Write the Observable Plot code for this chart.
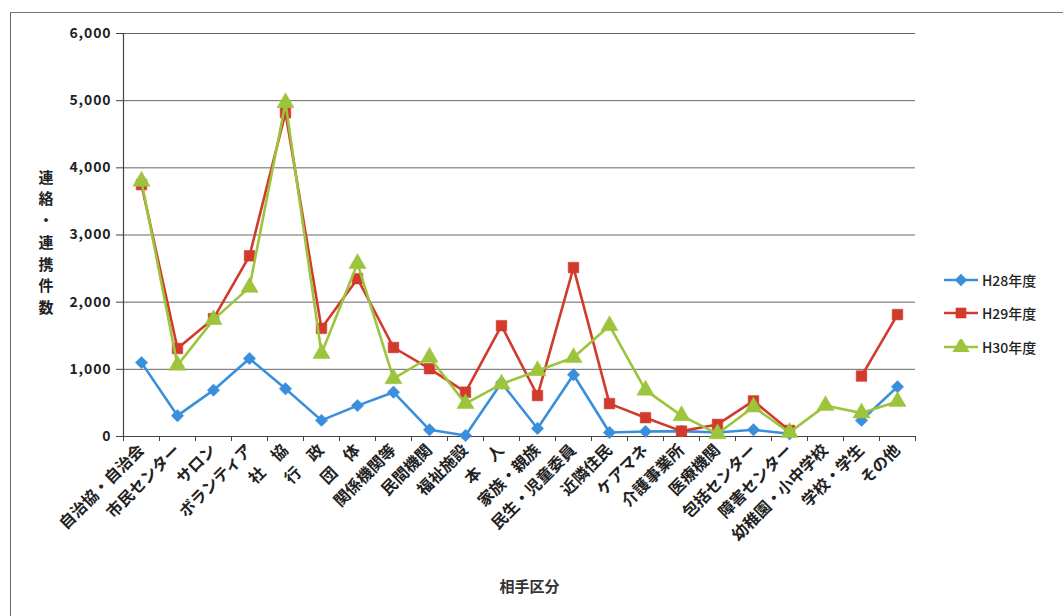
<!DOCTYPE html>
<html>
<head>
<meta charset="utf-8">
<script src="https://cdn.jsdelivr.net/npm/d3@7"></script>
<script src="https://cdn.jsdelivr.net/npm/@observablehq/plot@0.6"></script>
<style>
  body { margin: 0; background: #fff; }
  #wrap { position: relative; width: 1063px; height: 616px; overflow: hidden; font-family: 'Noto Sans CJK JP', sans-serif; }
  #frame { position: absolute; left: 10px; top: 12px; width: 1060px; height: 610px; border-left: 1.5px solid #666; border-top: 1.5px solid #777; }
  #legend { position: absolute; left: 942px; top: 263px; font-size: 14px; color: #222; font-weight: 500; }
  #legend .item { display: flex; align-items: center; height: 33.5px; }
  #legend svg { margin-right: 2px; }
  svg [aria-label="y-axis tick label"] text { letter-spacing: 0.9px; }
</style>
</head>
<body>
<div id="wrap"><div id="frame"></div></div>
<script>
const categories = ["自治協・自治会","市民センター","サロン","ボランティア","社　協","行　政","団　体","関係機関等","民間機関","福祉施設","本　人","家族・親族","民生・児童委員","近隣住民","ケアマネ","介護事業所","医療機関","包括センター","障害センター","幼稚園・小中学校","学校・学生","その他"];
const seriesNames = ["H28年度","H29年度","H30年度"];
const h28 = [1100, 310, 690, 1160, 710, 240, 460, 660, 100, 15, 800, 120, 920, 60, 75, 80, 60, 100, 40, null, 240, 740];
const h29 = [3750, 1310, 1755, 2690, 4820, 1610, 2350, 1325, 1010, 660, 1650, 610, 2515, 490, 280, 80, 180, 530, 90, null, 900, 1815];
const h30 = [3800, 1060, 1740, 2220, 4970, 1235, 2575, 860, 1180, 490, 780, 980, 1175, 1650, 690, 310, 40, 440, 60, 460, 350, 520];
const yTicks = [0, 1000, 2000, 3000, 4000, 5000, 6000];
const yLabel = "連絡・連携件数";
const xLabel = "相手区分";

const colors = ["#3a8fdc", "#d23a2c", "#9cc43c"];
const symbols = ["diamond2", "square", "triangle"];
const radii = [5.6, 6, 6.4];
const allSeries = [h28, h29, h30];

const lineMarks = [];
allSeries.forEach((vals, s) => {
  const rows = categories.map((c, i) => ({cat: c, value: vals[i], series: seriesNames[s]}));
  lineMarks.push(Plot.line(rows, {x: "cat", y: "value", stroke: colors[s], strokeWidth: 2.6, curve: "linear"}));
  lineMarks.push(Plot.dot(rows.filter(d => d.value != null), {x: "cat", y: "value", symbol: () => symbols[s], fill: colors[s], stroke: colors[s], strokeWidth: 0.5, r: radii[s]}));
});

const step = (1063 - 123 - 148) / categories.length;

const chart = Plot.plot({
  width: 1063, height: 616,
  marginLeft: 123, marginRight: 148, marginTop: 33, marginBottom: 180,
  style: {fontFamily: "'Noto Sans CJK JP', sans-serif", background: "transparent", color: "#222"},
  x: {type: "point", domain: categories, padding: 0.5, label: null},
  y: {domain: [0, 6000], label: null},
  symbol: {type: "identity"},
  marks: [
    Plot.gridY(yTicks, {stroke: "#555", strokeOpacity: 0.9, strokeWidth: 1}),
    Plot.ruleX([categories[0]], {dx: -step / 2, stroke: "#444", strokeWidth: 1.2}),
    Plot.ruleY([0], {stroke: "#444", strokeWidth: 1.2}),
    Plot.axisY({ticks: yTicks, tickFormat: d3.format(","), tickSize: 7, tickPadding: 5, fontSize: 14, fontWeight: "bold", stroke: "#444", label: null}),
    Plot.axisX({tickSize: 5, tickFormat: () => "", dx: -step / 2, stroke: "#444", label: null}),
    Plot.axisX([categories[categories.length - 1]], {tickSize: 5, tickFormat: () => "", dx: step / 2, stroke: "#444", label: null}),
    Plot.axisX({tickSize: 0, tickRotate: -45, tickPadding: 11, fontSize: 16, fontWeight: "bold", label: null}),
    Plot.text([xLabel], {frameAnchor: "bottom", dy: 155, dx: 10, fontSize: 15, fontWeight: "bold", fill: "#333"}),
    Plot.text([yLabel], {frameAnchor: "left", dx: -85, dy: 6, text: d => d.split("").join("\n"), lineHeight: 1.45, fontSize: 15, fontWeight: "bold", fill: "#222"}),
    ...lineMarks
  ]
});
chart.style.position = "absolute";
chart.style.left = "0px";
chart.style.top = "0px";
document.getElementById("wrap").appendChild(chart);

// legend
const legend = document.createElement("div");
legend.id = "legend";
seriesNames.forEach((name, s) => {
  const item = document.createElement("div");
  item.className = "item";
  const svg = d3.create("svg").attr("width", 38).attr("height", 16);
  svg.append("line").attr("x1", 2).attr("x2", 36).attr("y1", 8).attr("y2", 8).attr("stroke", colors[s]).attr("stroke-width", 2.6);
  const symMap = {diamond2: d3.symbolDiamond2, square: d3.symbolSquare, triangle: d3.symbolTriangle};
  svg.append("path").attr("transform", "translate(19,8)").attr("d", d3.symbol(symMap[symbols[s]], Math.PI * radii[s] * radii[s])()).attr("fill", colors[s]);
  item.appendChild(svg.node());
  const t = document.createElement("span");
  t.textContent = name;
  item.appendChild(t);
  legend.appendChild(item);
});
document.getElementById("wrap").appendChild(legend);
</script>
</body>
</html>
